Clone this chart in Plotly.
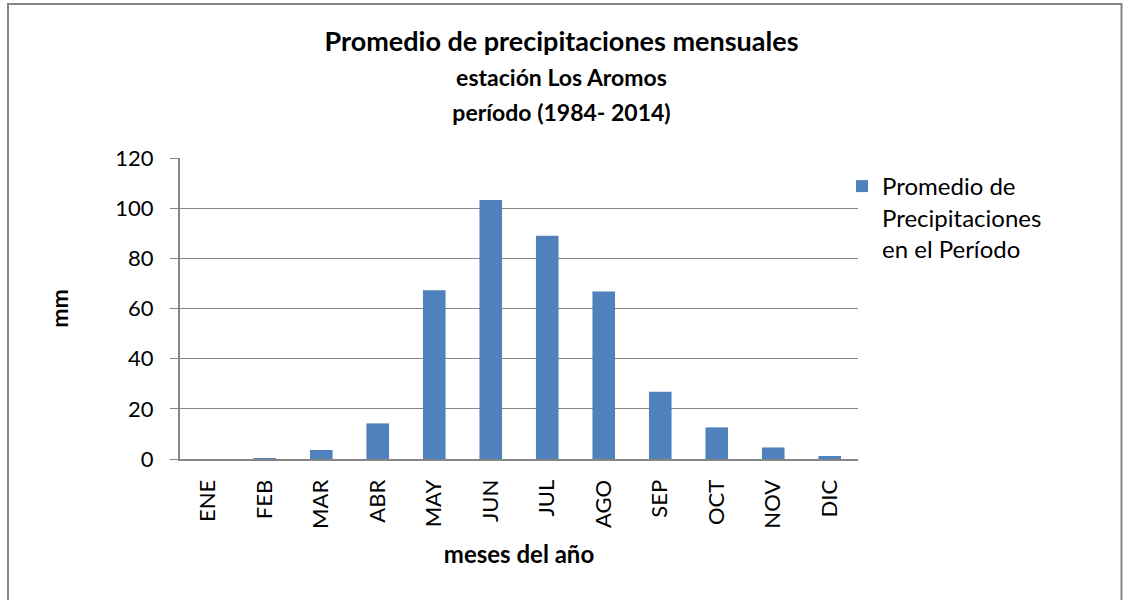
import plotly.graph_objects as go

meses = ["ENE", "FEB", "MAR", "ABR", "MAY", "JUN", "JUL", "AGO", "SEP", "OCT", "NOV", "DIC"]
precip_mm = [0.0, 0.4, 3.6, 14.2, 67.3, 103.3, 89.0, 66.8, 26.8, 12.6, 4.6, 1.2]
serie = "Promedio de<br>Precipitaciones<br>en el Período"

W, H = 1123, 600
L, R, T, B = 180, 858, 158, 459  # plot area in px

def px(x):
    return (x - L) / (R - L)

def py(y):
    return (B - y) / (B - T)

FONT = "Lato, 'Open Sans', sans-serif"

fig = go.Figure()
fig.add_trace(go.Bar(
    x=meses, y=precip_mm, name=serie,
    marker=dict(color="#4F81BD", line=dict(width=0)),
))

fig.update_layout(
    width=W, height=H,
    margin=dict(l=L, r=W - R, t=T, b=H - B),
    paper_bgcolor="white", plot_bgcolor="white",
    font=dict(family=FONT, size=22, color="black"),
    bargap=0.6,
    showlegend=True,
    title=dict(
        text="<b>Promedio de precipitaciones mensuales</b><br>"
             "<b><span style='font-size:23px'>estación Los Aromos</span></b><br>"
             "<b><span style='font-size:23px'>período (1984- 2014)</span></b>",
        x=0.5, xanchor="center", y=1 - 51 / H, yanchor="top",
        font=dict(size=27, family=FONT),
    ),
    legend=dict(
        x=px(842), y=py(164), xanchor="left", yanchor="top", valign="top",
        font=dict(size=24, family=FONT), bgcolor="rgba(0,0,0,0)",
        itemwidth=30, tracegroupgap=0,
    ),
    xaxis=dict(
        tickangle=-90, showgrid=False, showline=True, linecolor="#868686", linewidth=2,
        ticks="outside", ticklen=10, tickcolor="rgba(0,0,0,0)", tickfont=dict(size=22),
        title=dict(text="<b>meses del año</b>", font=dict(size=24), standoff=18),
    ),
    yaxis=dict(
        range=[0, 120], dtick=20, showgrid=True, gridcolor="#868686", gridwidth=1,
        showline=True, linecolor="#868686", linewidth=2,
        ticks="outside", ticklen=8, tickcolor="#868686",
        tickfont=dict(size=22), ticklabelstandoff=12,
        title=dict(text="<b>mm</b>", font=dict(size=23), standoff=40),
        zeroline=False,
    ),
    shapes=[dict(
        type="rect", xref="paper", yref="paper",
        x0=px(8), x1=px(1121.5), y0=py(603), y1=py(4),
        line=dict(color="#868686", width=2), fillcolor="rgba(0,0,0,0)",
    )],
)

fig.write_html("out.html", config={"displayModeBar": False},
               post_script="document.body.style.margin='0';")
